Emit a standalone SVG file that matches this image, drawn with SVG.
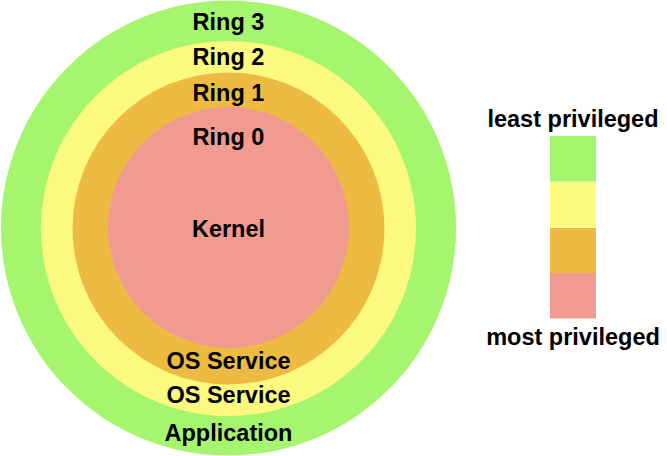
<svg xmlns="http://www.w3.org/2000/svg" width="667" height="456" viewBox="0 0 667 456">
<style>
text{font-family:"Liberation Sans",Arial,sans-serif;font-weight:bold;font-size:23.5px;fill:#000;text-anchor:middle}
.g{fill:#A5F56E}.y{fill:#FCFA7E}.o{fill:#EEBB42}.p{fill:#F19A90}
</style>
<rect width="667" height="456" fill="#fff"/>
<g id="ring3"><circle class="g" cx="228.5" cy="228" r="227.5"/><text x="228.5" y="29.5">Ring 3</text><text x="228.5" y="440.5">Application</text></g>
<g id="ring2"><circle class="y" cx="228.5" cy="228.5" r="187.5"/><text x="228.5" y="64.5">Ring 2</text><text x="228.5" y="403">OS Service</text></g>
<g id="ring1"><circle class="o" cx="228.5" cy="228.5" r="156"/><text x="228.5" y="101">Ring 1</text><text x="228.5" y="368.5">OS Service</text></g>
<g id="ring0"><circle class="p" cx="228.5" cy="227.5" r="120.5"/><text x="228.5" y="145">Ring 0</text><text x="228.5" y="237">Kernel</text></g>
<g id="legend">
<text x="573" y="127">least privileged</text>
<rect class="g" x="550" y="136" width="46" height="45.5"/>
<rect class="y" x="550" y="182" width="46" height="45.5"/>
<rect class="o" x="550" y="228" width="46" height="45.5"/>
<rect class="p" x="550" y="273" width="46" height="45.5"/>
<text x="573" y="345">most privileged</text>
</g>
<g id="connectors"/>
</svg>
